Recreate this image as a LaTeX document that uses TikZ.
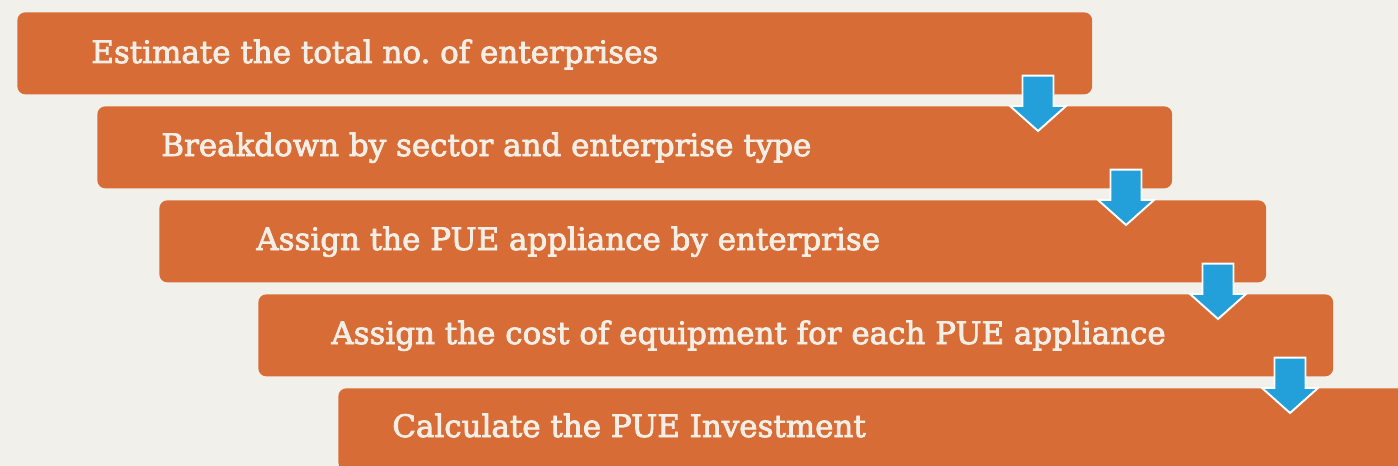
\documentclass[tikz,border=0pt]{standalone}
\usepackage{fontspec}
\setmainfont[FakeBold=2.6]{DejaVu Serif}
\usetikzlibrary{calc}

\definecolor{pageback}{HTML}{F1F0EB}
\definecolor{stepfill}{HTML}{D86C36}
\definecolor{steptext}{HTML}{F3EFE6}
\definecolor{arrowblue}{HTML}{23A0DA}

\tikzset{
  stepbox/.style={rectangle,rounded corners=0.16cm,fill=stepfill,anchor=north west,
    minimum width=21.5cm,minimum height=1.64cm,inner sep=0pt},
  steplabel/.style={anchor=base west,inner sep=0pt,text=steptext,font=\fontsize{17.6}{20}\selectfont},
  downarrow/.style={fill=arrowblue,draw=white,line width=1.1pt,line join=miter}
}

% block arrow: #1 centre x, #2 upper box, #3 lower box
\newcommand{\steparrow}[3]{%
  \coordinate (t) at (#1,0 |- #2.south);
  \coordinate (b) at (#1,0 |- #3.north);
  \draw[downarrow] ($(t)+(-15.5,-19)$) -- ($(t)+(15.5,-19)$) -- ($(b)+(15.5,0)$)
    -- ($(b)+(28,0)$) -- ($(b)+(0,25)$) -- ($(b)+(-28,0)$) -- ($(b)+(-15.5,0)$) -- cycle;
}

\begin{document}
\begin{tikzpicture}[x=0.02cm,y=-0.02cm]
  \useasboundingbox[fill=pageback] (0,0) rectangle (1398,466);
  \clip (0,0) rectangle (1398,466);

  \node[stepbox] (est) at (17,12) {};
  \node[stepbox] (brk) at (97,106) {};
  \node[stepbox,minimum width=22.14cm] (app) at (159,200) {};
  \node[stepbox] (cost) at (258,294) {};
  \node[stepbox] (inv) at (338,388) {};

  \node[steplabel] (est_t) at (91,63) {Estimate the total no.\ of enterprises};
  \node[steplabel] (brk_t) at (161,156) {Breakdown by sector and enterprise type};
  \node[steplabel] (app_t) at (256,250) {Assign the PUE appliance by enterprise};
  \node[steplabel] (cost_t) at (331,344) {Assign the cost of equipment for each PUE appliance};
  \node[steplabel] (inv_t) at (392,437) {Calculate the PUE Investment};

  \steparrow{1038}{est}{brk}
  \steparrow{1126}{brk}{app}
  \steparrow{1218}{app}{cost}
  \steparrow{1290}{cost}{inv}
\end{tikzpicture}
\end{document}
